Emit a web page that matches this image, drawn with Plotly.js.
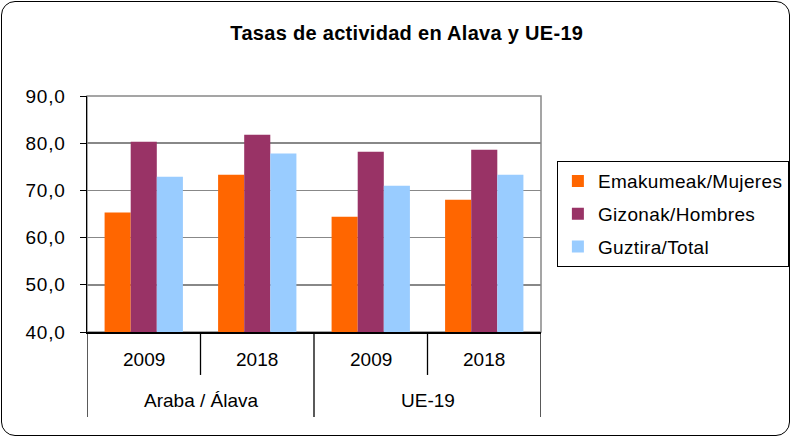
<!DOCTYPE html>
<html><head><meta charset="utf-8">
<script src="https://cdn.plot.ly/plotly-3.0.1.min.js"></script>
<style>
html,body{margin:0;padding:0;background:#fff;}
#wrap{position:absolute;left:0;top:0;width:793px;height:438px;overflow:hidden;}
#frame{position:absolute;left:1px;top:1px;width:787px;height:433px;border:1.5px solid #000;border-radius:14px;pointer-events:none;}
#chart{position:absolute;left:0;top:0;width:793px;height:438px;}
.legendtext{letter-spacing:0.35px;}
.ytick text{letter-spacing:0.8px;}
.gtitle{letter-spacing:0.3px;}
</style></head>
<body>
<div id="wrap"><div id="chart"></div><div id="frame"></div></div>
<script>
const regions = ["Araba / Álava","Araba / Álava","UE-19","UE-19"];
const years = ["2009","2018","2009","2018"];
const seriesNames = ["Emakumeak/Mujeres","Gizonak/Hombres","Guztira/Total"];
const mujeres = [65.3, 73.3, 64.4, 68.0];
const hombres = [80.3, 81.8, 78.2, 78.6];
const total = [72.9, 77.8, 71.0, 73.3];
const colors = ["#FF6600","#993366","#99CCFF"];

const cats = regions.map((r,i)=>r+' '+years[i]);
const vals = [mujeres, hombres, total];
const data = vals.map((v,i)=>({
  type:'bar', x:cats, y:v, name:seriesNames[i], legendgroup:'g'+i,
  marker:{color:colors[i], line:{width:0}}, hoverinfo:'skip'
}));

// axis decoration: year labels, group labels, dividers
const annotations = [];
const shapes = [];
years.forEach((y,i)=>{
  annotations.push({x:i, xref:'x', y:-0.118, yref:'paper', text:y, showarrow:false, yanchor:'middle', font:{size:19}});
});
const groupNames = [...new Set(regions)];
groupNames.forEach(g=>{
  const idx = regions.map((r,i)=>r===g?i:null).filter(v=>v!==null);
  const mid = (idx[0]+idx[idx.length-1])/2;
  annotations.push({x:mid, xref:'x', y:-0.292, yref:'paper', text:g, showarrow:false, yanchor:'middle', font:{size:19}});
});
for(let i=0;i<=regions.length;i++){
  const isGroupEdge = i===0 || i===regions.length || regions[i]!==regions[i-1];
  shapes.push({type:'line', xref:'x', yref:'paper', x0:i-0.5, x1:i-0.5, y0:0, y1:isGroupEdge?-0.36:-0.182,
    line:{color:'#000', width:1.3}});
}
// plot-area frame (grey top/right border)
shapes.push({type:'rect', xref:'paper', yref:'paper', x0:0, x1:1, y0:0, y1:1, layer:'below',
  line:{color:'#888', width:1.5}, fillcolor:'rgba(0,0,0,0)'});

const layout = {
  width:793, height:438,
  paper_bgcolor:'rgba(0,0,0,0)', plot_bgcolor:'#fff',
  separators:',.',
  font:{family:'"Liberation Sans", Arial, sans-serif', size:19, color:'#000'},
  margin:{l:87, r:252, t:96, b:106, autoexpand:false},
  title:{text:'<b>Tasas de actividad en Alava y UE-19</b>', font:{size:20}, x:0.513, xref:'container', y:0.925, yref:'container', xanchor:'center', yanchor:'middle'},
  bargap:0.31, bargroupgap:0,
  xaxis:{type:'category', showticklabels:false, ticks:'', showline:true, linecolor:'#000', linewidth:1.5, showgrid:false,
    range:[-0.5, regions.length-0.5]},
  yaxis:{range:[40,90], dtick:10, tickformat:'.1f', ticks:'outside', ticklen:6, tickcolor:'#000',
    showline:true, linecolor:'#000', linewidth:1.5, showgrid:true, gridcolor:'#888', gridwidth:1.5,
    tickfont:{size:19}, zeroline:false, ticklabelstandoff:10, automargin:false},
  annotations:annotations,
  shapes:shapes,
  showlegend:true,
  legend:{x:1.035, y:0.724, xanchor:'left', yanchor:'top', bordercolor:'#000', borderwidth:1, bgcolor:'#fff',
    font:{size:19}, tracegroupgap:5, itemwidth:30}
};
Plotly.newPlot('chart', data, layout, {staticPlot:true});
</script>
</body></html>
